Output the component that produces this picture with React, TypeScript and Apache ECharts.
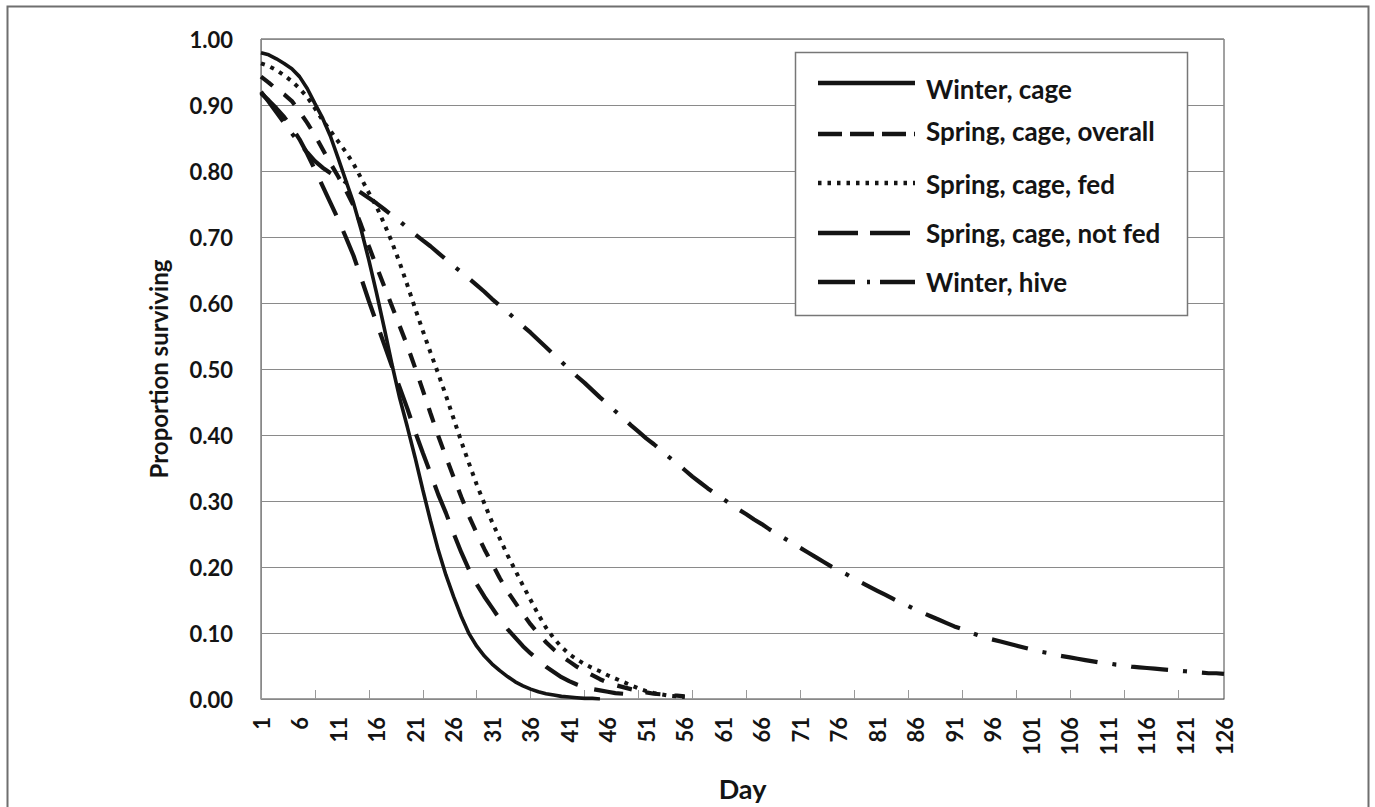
import React, { useEffect, useRef } from "react";
import * as echarts from "echarts";

// ---- data ----
const days: string[] = Array.from({ length: 126 }, (_, i) => String(i + 1));

const winterCage = [
  0.979, 0.976, 0.97, 0.963, 0.955, 0.943, 0.925, 0.902, 0.88, 0.853,
  0.82, 0.786, 0.752, 0.711, 0.665, 0.615, 0.562, 0.507, 0.456, 0.412,
  0.366, 0.317, 0.27, 0.226, 0.188, 0.155, 0.125, 0.099, 0.08, 0.065,
  0.053, 0.043, 0.034, 0.026, 0.02, 0.015, 0.011, 0.008, 0.006, 0.004,
  0.003, 0.002, 0.001, 0.001, 0.0,
];

const springOverall = [
  0.943, 0.934, 0.924, 0.916, 0.906, 0.89, 0.873, 0.854, 0.833, 0.812,
  0.792, 0.771, 0.748, 0.718, 0.686, 0.655, 0.625, 0.595, 0.565, 0.535,
  0.502, 0.468, 0.433, 0.399, 0.367, 0.336, 0.306, 0.277, 0.251, 0.227,
  0.205, 0.183, 0.163, 0.146, 0.129, 0.113, 0.099, 0.086, 0.075, 0.065,
  0.057, 0.049, 0.042, 0.036, 0.03, 0.025, 0.021, 0.018, 0.015, 0.012,
  0.01, 0.008, 0.007, 0.006, 0.005, 0.004,
];

const springFed = [
  0.963, 0.959, 0.953, 0.945, 0.936, 0.925, 0.912, 0.895, 0.877, 0.861,
  0.845, 0.829, 0.811, 0.789, 0.767, 0.746, 0.72, 0.692, 0.661, 0.627,
  0.592, 0.558, 0.525, 0.493, 0.46, 0.425, 0.39, 0.357, 0.325, 0.296,
  0.268, 0.243, 0.218, 0.195, 0.172, 0.15, 0.128, 0.108, 0.092, 0.079,
  0.068, 0.06, 0.053, 0.047, 0.042, 0.036, 0.031, 0.026, 0.021, 0.016,
  0.012, 0.009, 0.007, 0.005, 0.004, 0.003,
];

const springNotFed = [
  0.918, 0.907, 0.895, 0.882, 0.866, 0.848, 0.826, 0.802, 0.777, 0.752,
  0.727, 0.7, 0.672, 0.638, 0.603, 0.57, 0.537, 0.504, 0.472, 0.44,
  0.405, 0.373, 0.342, 0.31, 0.282, 0.251, 0.222, 0.196, 0.174, 0.155,
  0.138, 0.121, 0.106, 0.093, 0.08, 0.069, 0.059, 0.049, 0.041, 0.033,
  0.027, 0.022, 0.018, 0.015, 0.013, 0.011, 0.009, 0.008,
];

const winterHive = [
  0.92, 0.905, 0.889, 0.873, 0.857, 0.842, 0.828, 0.815, 0.805, 0.797,
  0.79, 0.783, 0.775, 0.767, 0.759, 0.751, 0.742, 0.733, 0.724, 0.714,
  0.704, 0.695, 0.686, 0.676, 0.666, 0.656, 0.647, 0.637, 0.627, 0.617,
  0.606, 0.596, 0.586, 0.576, 0.565, 0.555, 0.544, 0.533, 0.522, 0.511,
  0.5, 0.489, 0.479, 0.468, 0.457, 0.447, 0.436, 0.426, 0.415, 0.405,
  0.395, 0.386, 0.376, 0.366, 0.357, 0.347, 0.337, 0.328, 0.319, 0.311,
  0.303, 0.295, 0.287, 0.28, 0.272, 0.265, 0.257, 0.25, 0.243, 0.236,
  0.229, 0.222, 0.215, 0.208, 0.201, 0.195, 0.189, 0.182, 0.176, 0.17,
  0.164, 0.158, 0.152, 0.146, 0.141, 0.135, 0.13, 0.125, 0.12, 0.115,
  0.11, 0.106, 0.101, 0.097, 0.093, 0.09, 0.087, 0.084, 0.081, 0.078,
  0.075, 0.072, 0.07, 0.067, 0.065, 0.063, 0.061, 0.059, 0.057, 0.055,
  0.054, 0.052, 0.051, 0.049, 0.048, 0.047, 0.046, 0.045, 0.044, 0.043,
  0.042, 0.041, 0.04, 0.039, 0.039, 0.038,
];

const seriesNames = [
  "Winter, cage",
  "Spring, cage, overall",
  "Spring, cage, fed",
  "Spring, cage, not fed",
  "Winter, hive",
];

const INK = "#141414";
const FONT = "Lato";

export default function App() {
  const ref = useRef<HTMLDivElement>(null);

  useEffect(() => {
    document.body.style.margin = "0";
    const chart = echarts.init(ref.current!, null, { renderer: "svg" });

    const dashes: (number[] | "solid")[] = [
      "solid",
      [15, 14],
      [4, 6],
      [37, 17],
      [37, 15, 4, 15],
    ];
    const datas = [winterCage, springOverall, springFed, springNotFed, winterHive];
    const widths = [3.6, 4.2, 4, 4.2, 4.2];

    const legendDashes: (number[] | null)[] = [null, [24, 8], [3.5, 6], [40, 12], [37, 12, 3, 10]];
    const lineYs = [83, 134, 183, 233, 282];
    const textYs = [89, 131, 184, 233, 282];

    const legendGraphics: any[] = [
      {
        type: "rect",
        shape: { x: 795.5, y: 52.5, width: 392, height: 263 },
        style: { fill: "#fff", stroke: "#777", lineWidth: 1.5 },
        z: 50,
      },
    ];
    seriesNames.forEach((name, i) => {
      legendGraphics.push({
        type: "line",
        shape: { x1: 818, y1: lineYs[i], x2: 915, y2: lineYs[i] },
        style: {
          stroke: INK,
          lineWidth: 4.5,
          lineDash: legendDashes[i] || undefined,
        },
        z: 51,
      });
      legendGraphics.push({
        type: "text",
        x: 926,
        y: textYs[i],
        style: {
          text: name,
          fill: INK,
          fontSize: 26,
          fontWeight: "bold",
          fontFamily: FONT,
          align: "left",
          verticalAlign: "middle",
        },
        z: 51,
      });
    });

    chart.setOption({
      animation: false,
      backgroundColor: "#fff",
      grid: {
        left: 261,
        top: 39,
        width: 963,
        height: 660,
        show: true,
        borderColor: "#444",
        borderWidth: 1,
        containLabel: false,
      },
      xAxis: {
        type: "category",
        data: days,
        boundaryGap: false,
        name: "Day",
        nameLocation: "middle",
        nameGap: 76,
        nameTextStyle: { fontSize: 27, fontWeight: "bold", fontFamily: FONT, color: INK },
        axisLine: { show: true, lineStyle: { color: "#888", width: 1 } },
        axisTick: {
          show: true,
          inside: true,
          length: 9,
          interval: (i: number) => i % 7 === 0,
          lineStyle: { color: "#999", width: 1 },
        },
        axisLabel: {
          interval: (i: number) => i % 5 === 0,
          rotate: 90,
          margin: 18,
          fontSize: 22,
          fontWeight: "bold",
          fontFamily: FONT,
          color: INK,
        },
        splitLine: { show: false },
      },
      yAxis: {
        type: "value",
        min: 0,
        max: 1,
        interval: 0.1,
        name: "Proportion surviving",
        nameLocation: "middle",
        nameGap: 91,
        nameTextStyle: { fontSize: 24, fontWeight: "bold", fontFamily: FONT, color: INK },
        axisLine: { show: true, lineStyle: { color: "#888", width: 1 } },
        axisTick: { show: false },
        axisLabel: {
          formatter: (v: number) => v.toFixed(2),
          margin: 28,
          fontSize: 22,
          fontWeight: "bold",
          fontFamily: FONT,
          color: INK,
        },
        splitLine: { show: true, lineStyle: { color: "#8a8a8a", width: 1 } },
      },
      series: seriesNames.map((name, i) => ({
        name,
        type: "line",
        data: datas[i],
        symbol: "none",
        showSymbol: false,
        smooth: false,
        lineStyle: { color: INK, width: widths[i], type: dashes[i], cap: "butt" },
        z: 10 - i,
      })),
      graphic: [
        {
          type: "rect",
          shape: { x: 7.5, y: 6.5, width: 1361, height: 830 },
          style: { fill: "none", stroke: "#6f6f6f", lineWidth: 2 },
          z: 1,
          silent: true,
        },
        ...legendGraphics,
      ],
    });

    return () => chart.dispose();
  }, []);

  return (
    <div
      ref={ref}
      style={{ position: "absolute", left: 0, top: 0, width: 1375, height: 807 }}
    />
  );
}
